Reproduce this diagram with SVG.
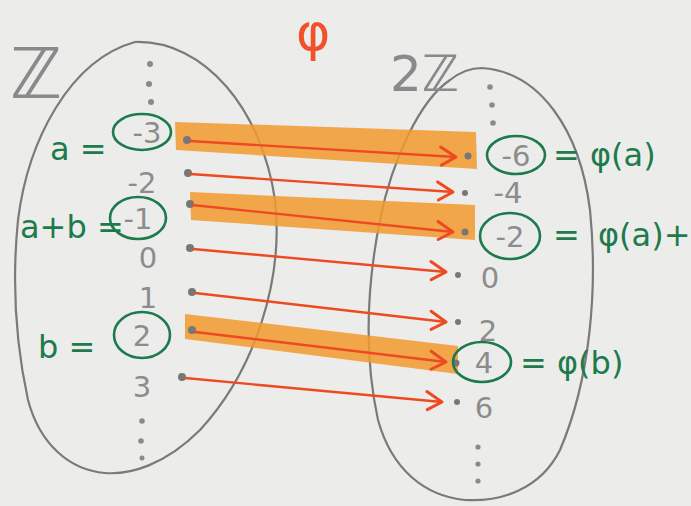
<svg xmlns="http://www.w3.org/2000/svg" width="691" height="506" viewBox="0 0 691 506">
  <defs>
    <style>
      .set { fill: none; stroke: #7a7a7a; stroke-width: 2.2; stroke-linejoin: round; }
      .num { font-family: "DejaVu Sans", "Liberation Sans", sans-serif; fill: #8c8c8c; font-size: 29px; text-anchor: middle; }
      .title { font-family: "DejaVu Sans", "Liberation Sans", sans-serif; fill: #8a8a8a; }
      .lbl { font-family: "DejaVu Sans", "Liberation Sans", sans-serif; fill: #1d7a4c; font-size: 32px; }
      .ring { fill: none; stroke: #1d7a4c; stroke-width: 2.6; }
      .pt { fill: #777; }
      .dot { fill: #8a8a8a; }
      .hl { fill: #f29a2e; opacity: 0.85; }
      .arrow { fill: none; stroke: #ee4a22; stroke-width: 2.4; marker-end: url(#head); }
    </style>
    <marker id="head" markerUnits="userSpaceOnUse" markerWidth="30" markerHeight="30" viewBox="-20 -15 30 30" refX="0" refY="0" orient="auto">
      <path d="M -16,-9 L 0,0 L -14,9" fill="none" stroke="#ee4a22" stroke-width="3" stroke-linecap="round" stroke-linejoin="round"/>
    </marker>
  </defs>

  <!-- paper -->
  <rect width="691" height="506" fill="#ececea"/>

  <!-- domain set Z -->
  <g id="set-Z">
    <path class="set" d="M 135,42 C 205,40 262,110 275,200 C 284,280 255,370 200,430 C 165,465 130,475 105,473 C 70,470 40,445 28,400 C 15,340 12,280 18,220 C 28,140 70,60 135,42 Z"/>
    <text class="title" x="10" y="98" font-size="70">ℤ</text>
    <circle class="dot" cx="150" cy="64" r="3"/>
    <circle class="dot" cx="149" cy="84" r="3"/>
    <circle class="dot" cx="151" cy="102" r="3"/>
    <circle class="dot" cx="142" cy="421" r="2.8"/>
    <circle class="dot" cx="141" cy="441" r="2.8"/>
    <circle class="dot" cx="142" cy="458" r="2.5"/>
  </g>

  <!-- codomain set 2Z -->
  <g id="set-2Z">
    <path class="set" d="M 482,68 C 540,72 580,130 590,210 C 598,290 590,380 560,450 C 540,490 500,502 465,500 C 425,496 392,470 378,420 C 365,360 366,290 380,220 C 392,160 420,100 450,80 C 460,72 470,68 482,68 Z"/>
    <text class="title" x="390" y="91" font-size="50">2ℤ</text>
    <circle class="dot" cx="490" cy="87" r="2.8"/>
    <circle class="dot" cx="492" cy="105" r="2.8"/>
    <circle class="dot" cx="493" cy="123" r="2.8"/>
    <circle class="dot" cx="478" cy="447" r="2.6"/>
    <circle class="dot" cx="478" cy="464" r="2.6"/>
    <circle class="dot" cx="478" cy="481" r="2.6"/>
  </g>

  <!-- map name -->
  <text id="map-name" x="296" y="50" font-family="DejaVu Sans, Liberation Sans, sans-serif" font-size="52" fill="#f0502a">φ</text>

  <!-- highlighted pairs -->
  <g id="highlights">
    <path class="hl" d="M 175,122 L 476,132 L 477,169 L 176,150 Z"/>
    <path class="hl" d="M 190,192 L 475,205 L 475,240 L 191,220 Z"/>
    <path class="hl" d="M 185,314 L 458,346 L 458,374 L 185,339 Z"/>
  </g>

  <!-- elements of Z -->
  <g id="z-m3"><circle class="pt" cx="187" cy="140" r="4"/><ellipse class="ring" cx="142" cy="132" rx="29" ry="18"/><text class="num" x="147" y="143">-3</text><text class="lbl" x="50" y="160">a =</text></g>
  <g id="z-m2"><circle class="pt" cx="188" cy="173" r="4"/><text class="num" x="142" y="193">-2</text></g>
  <g id="z-m1"><circle class="pt" cx="190" cy="204" r="4"/><ellipse class="ring" cx="138" cy="218" rx="28" ry="21"/><text class="num" x="138" y="229">-1</text><text class="lbl" x="20" y="238" font-size="30">a+b =</text></g>
  <g id="z-0"><circle class="pt" cx="190" cy="248" r="4"/><text class="num" x="148" y="268">0</text></g>
  <g id="z-1"><circle class="pt" cx="192" cy="292" r="4"/><text class="num" x="148" y="308">1</text></g>
  <g id="z-2"><circle class="pt" cx="192" cy="330" r="4"/><ellipse class="ring" cx="142" cy="335" rx="28" ry="23"/><text class="num" x="142" y="346">2</text><text class="lbl" x="38" y="358">b =</text></g>
  <g id="z-3"><circle class="pt" cx="182" cy="377" r="4"/><text class="num" x="142" y="397">3</text></g>

  <!-- elements of 2Z -->
  <g id="e-m6"><circle class="pt" cx="468" cy="156" r="3.5"/><ellipse class="ring" cx="516" cy="155" rx="29" ry="19"/><text class="num" x="516" y="166">-6</text><text class="lbl" x="553" y="166" font-size="37">= φ(a)</text></g>
  <g id="e-m4"><circle class="pt" cx="465" cy="193" r="3"/><text class="num" x="508" y="203">-4</text></g>
  <g id="e-m2"><circle class="pt" cx="465" cy="232" r="3.5"/><ellipse class="ring" cx="510" cy="236" rx="30" ry="23"/><text class="num" x="510" y="247">-2</text><text class="lbl" x="553" y="246" font-size="36">=</text><text class="lbl" x="598" y="246" font-size="37">φ(a)+</text></g>
  <g id="e-0"><circle class="pt" cx="458" cy="275" r="3"/><text class="num" x="490" y="288">0</text></g>
  <g id="e-2"><circle class="pt" cx="458" cy="322" r="3"/><text class="num" x="488" y="341">2</text></g>
  <g id="e-4"><circle class="pt" cx="456" cy="363" r="3.5"/><ellipse class="ring" cx="482" cy="362" rx="29" ry="20"/><text class="num" x="484" y="373">4</text><text class="lbl" x="520" y="374" font-size="37">= φ(b)</text></g>
  <g id="e-6"><circle class="pt" cx="457" cy="402" r="3"/><text class="num" x="484" y="418">6</text></g>

  <!-- arrows x ↦ 2x -->
  <g id="connectors">
    <path class="arrow" d="M 190,141 L 456,157"/>
    <path class="arrow" d="M 190,174 L 453,192"/>
    <path class="arrow" d="M 192,205 L 453,232"/>
    <path class="arrow" d="M 193,249 L 446,272"/>
    <path class="arrow" d="M 195,293 L 446,322"/>
    <path class="arrow" d="M 195,332 L 446,362"/>
    <path class="arrow" d="M 185,378 L 442,402"/>
  </g>
</svg>
